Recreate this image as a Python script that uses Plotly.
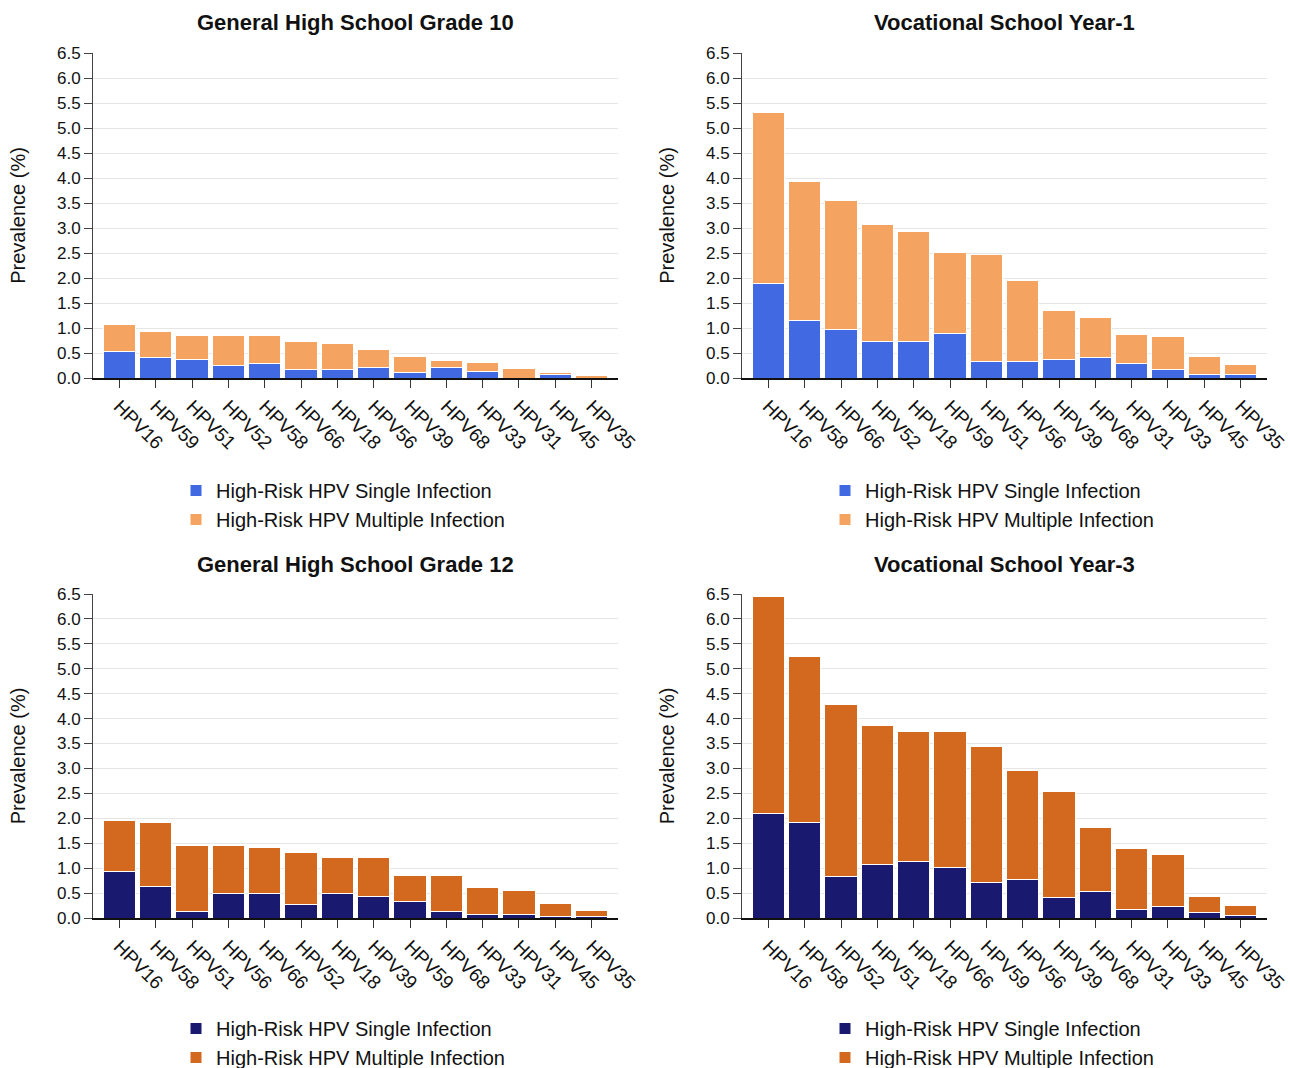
import plotly.graph_objects as go

# Genotype order (sorted by total prevalence) for each cohort
types_g10 = ["HPV16", "HPV59", "HPV51", "HPV52", "HPV58", "HPV66", "HPV18",
             "HPV56", "HPV39", "HPV68", "HPV33", "HPV31", "HPV45", "HPV35"]
types_v1 = ["HPV16", "HPV58", "HPV66", "HPV52", "HPV18", "HPV59", "HPV51",
            "HPV56", "HPV39", "HPV68", "HPV31", "HPV33", "HPV45", "HPV35"]
types_g12 = ["HPV16", "HPV58", "HPV51", "HPV56", "HPV66", "HPV52", "HPV18",
             "HPV39", "HPV59", "HPV68", "HPV33", "HPV31", "HPV45", "HPV35"]
types_v3 = ["HPV16", "HPV58", "HPV52", "HPV51", "HPV18", "HPV66", "HPV59",
            "HPV56", "HPV39", "HPV68", "HPV31", "HPV33", "HPV45", "HPV35"]

# Prevalence (%) — single infection and total (single + multiple)
single_g10 = [0.53, 0.41, 0.37, 0.25, 0.29, 0.18, 0.18, 0.22, 0.11, 0.22, 0.14, 0.0, 0.08, 0.0]
total_g10 = [1.08, 0.93, 0.85, 0.85, 0.85, 0.74, 0.70, 0.58, 0.43, 0.35, 0.31, 0.20, 0.12, 0.05]

single_v1 = [1.89, 1.15, 0.98, 0.73, 0.73, 0.89, 0.33, 0.33, 0.38, 0.42, 0.29, 0.17, 0.07, 0.07]
total_v1 = [5.31, 3.93, 3.55, 3.07, 2.94, 2.51, 2.47, 1.95, 1.35, 1.21, 0.87, 0.83, 0.43, 0.27]

single_g12 = [0.94, 0.64, 0.13, 0.49, 0.49, 0.28, 0.49, 0.44, 0.33, 0.13, 0.08, 0.08, 0.03, 0.03]
total_g12 = [1.95, 1.91, 1.46, 1.46, 1.41, 1.31, 1.21, 1.21, 0.85, 0.85, 0.61, 0.55, 0.29, 0.15]

single_v3 = [2.09, 1.92, 0.83, 1.07, 1.13, 1.01, 0.71, 0.77, 0.41, 0.53, 0.17, 0.23, 0.11, 0.05]
total_v3 = [6.45, 5.24, 4.28, 3.87, 3.74, 3.74, 3.45, 2.96, 2.54, 1.81, 1.39, 1.27, 0.43, 0.25]

titles = ["General High School Grade 10", "Vocational School Year-1",
          "General High School Grade 12", "Vocational School Year-3"]
legend_names = ["High-Risk HPV Single Infection", "High-Risk HPV Multiple Infection"]

LIGHT = ("#4169E1", "#F4A460")
DARK = ("#191970", "#D2691E")

W, H = 1290, 1068
FONT = "Liberation Sans, Arial, sans-serif"
BARGAP = 0.11
OUTER_PAD = 0.28   # extra space (in band units) before the first / after the last bar

# pixel boxes of each plot area: (left, right, top, bottom) and legend offset below axis
panels = [
    dict(types=types_g10, single=single_g10, total=total_g10, colors=LIGHT, box=(93, 618, 53, 378), leg=93),
    dict(types=types_v1, single=single_v1, total=total_v1, colors=LIGHT, box=(742, 1267, 53, 378), leg=93),
    dict(types=types_g12, single=single_g12, total=total_g12, colors=DARK, box=(93, 618, 594, 918), leg=91),
    dict(types=types_v3, single=single_v3, total=total_v3, colors=DARK, box=(742, 1267, 594, 918), leg=91),
]

fig = go.Figure()
layout = dict(
    width=W, height=H,
    margin=dict(l=0, r=0, t=0, b=0, autoexpand=False),
    paper_bgcolor="white", plot_bgcolor="white",
    barmode="stack", bargap=BARGAP,
    font=dict(family=FONT, color="#111111"),
    showlegend=True,
)
annotations = []

for i, p in enumerate(panels):
    n = i + 1
    xa = "x" if n == 1 else f"x{n}"
    ya = "y" if n == 1 else f"y{n}"
    lg = "legend" if n == 1 else f"legend{n}"
    multiple = [round(t - s, 2) for t, s in zip(p["total"], p["single"])]

    for name, vals, col in [(legend_names[0], p["single"], p["colors"][0]),
                            (legend_names[1], multiple, p["colors"][1])]:
        fig.add_trace(go.Bar(
            x=p["types"], y=vals, name=name, xaxis=xa, yaxis=ya, legend=lg,
            marker=dict(color=col, line=dict(color="white", width=1)),
        ))

    l, r, t, b = p["box"]
    xdom = [l / W, r / W]
    ydom = [1 - b / H, 1 - t / H]
    half = (1 - BARGAP) / 2 + OUTER_PAD
    layout["xaxis" if n == 1 else f"xaxis{n}"] = dict(
        domain=xdom, anchor=ya, type="category", automargin=False,
        range=[-half, len(p["types"]) - 1 + half],
        showline=True, linecolor="#111111", linewidth=2,
        ticks="outside", ticklen=8, tickwidth=1, tickcolor="#333333",
        tickangle=45, tickfont=dict(size=19, family=FONT, color="#111111"),
        showgrid=False, zeroline=False,
    )
    layout["yaxis" if n == 1 else f"yaxis{n}"] = dict(
        domain=ydom, anchor=xa, range=[0, 6.5], dtick=0.5, tickformat=".1f",
        automargin=False,
        showline=True, linecolor="#444444", linewidth=1,
        ticks="outside", ticklen=8, tickwidth=1, tickcolor="#444444",
        tickfont=dict(size=17, family=FONT, color="#111111"),
        showgrid=True, gridcolor="#e6e6e6", gridwidth=1, zeroline=False,
        title=dict(text="Prevalence (%)", font=dict(size=20, family=FONT, color="#111111"),
                   standoff=25),
    )
    layout[lg] = dict(
        x=(l + 83) / W, xanchor="left",
        y=1 - (b + p["leg"]) / H, yanchor="top",
        orientation="v", traceorder="normal",
        font=dict(size=20, family=FONT, color="#111111"),
        bgcolor="rgba(0,0,0,0)", itemclick=False, itemdoubleclick=False,
        tracegroupgap=0,
    )
    annotations.append(dict(
        text=f"<b>{titles[i]}</b>", x=(l + r) / 2 / W, xref="paper",
        y=1 - (t - 30) / H, yref="paper", xanchor="center", yanchor="middle",
        showarrow=False, font=dict(size=22, family=FONT, color="#111111"),
    ))

layout["annotations"] = annotations
fig.update_layout(**layout)
fig.write_html("out.html")
